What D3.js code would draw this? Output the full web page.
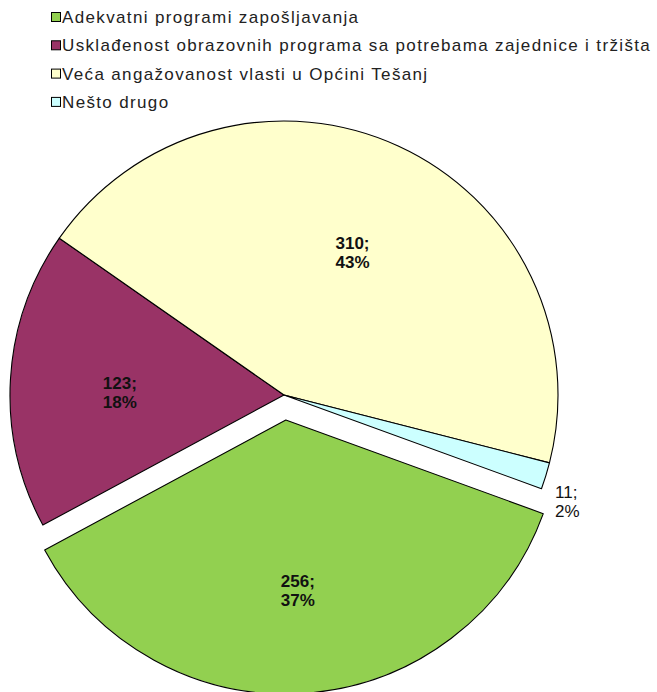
<!DOCTYPE html>
<html>
<head>
<meta charset="utf-8">
<script src="https://cdn.jsdelivr.net/npm/d3@7"></script>
<style>
  body { margin: 0; background: #fff; }
</style>
</head>
<body>
<div id="chart"></div>
<script>
var categories = [
  "Adekvatni programi zapošljavanja",
  "Usklađenost obrazovnih programa sa potrebama zajednice i tržišta",
  "Veća angažovanost vlasti u Općini Tešanj",
  "Nešto drugo"
];
var values = [256, 123, 310, 11];
var percents = ["37%", "18%", "43%", "2%"];
var colors = ["#92D050", "#993366", "#FFFFCC", "#CCFFFF"];
var exploded = [true, false, false, false];

var width = 657,
    height = 692,
    cx = 284,
    cy = 395,
    radius = 274,
    explode = 25;

var svg = d3.select("#chart")
    .append("svg")
    .attr("width", width)
    .attr("height", height);

// legend
var legend = svg.append("g")
    .attr("transform", "translate(51,0)");

var rows = legend.selectAll("g")
    .data(categories)
    .enter()
    .append("g")
    .attr("transform", function(d, i) { return "translate(0," + (12 + i * 28.3) + ")"; });

rows.append("rect")
    .attr("x", 0.5)
    .attr("y", 0.5)
    .attr("width", 9)
    .attr("height", 9)
    .style("fill", function(d, i) { return colors[i]; })
    .style("stroke", "#000")
    .style("stroke-width", 1);

rows.append("text")
    .attr("x", 11)
    .attr("y", 11)
    .style("font-family", "Liberation Sans, Arial, sans-serif")
    .style("font-size", "17px")
    .style("letter-spacing", "1.35px")
    .style("fill", "#222")
    .text(function(d) { return d; });

// pie
var pie = d3.pie()
    .sort(null)
    .startAngle(110 * Math.PI / 180)
    .endAngle(110 * Math.PI / 180 + 2 * Math.PI);

var arc = d3.arc()
    .innerRadius(0)
    .outerRadius(radius);

var labelArc = d3.arc()
    .innerRadius(radius * 0.6)
    .outerRadius(radius * 0.6);

var outerArc = d3.arc()
    .innerRadius(radius + 16)
    .outerRadius(radius + 16);

var arcs = pie(values);

var g = svg.append("g")
    .attr("transform", "translate(" + cx + "," + cy + ")");

var slices = g.selectAll("g.slice")
    .data(arcs)
    .enter()
    .append("g")
    .attr("class", "slice")
    .attr("transform", function(d, i) {
        if (!exploded[i]) return null;
        var a = (d.startAngle + d.endAngle) / 2;
        return "translate(" + (Math.sin(a) * explode) + "," + (-Math.cos(a) * explode) + ")";
    });

slices.append("path")
    .attr("d", arc)
    .style("fill", function(d, i) { return colors[i]; })
    .style("stroke", "#000")
    .style("stroke-width", 1.1)
    .style("stroke-linejoin", "round");

// labels
slices.append("text")
    .attr("transform", function(d, i) {
        var p = (i === 3) ? outerArc.centroid(d) : labelArc.centroid(d);
        return "translate(" + p[0] + "," + p[1] + ")";
    })
    .attr("text-anchor", function(d, i) { return i === 3 ? "start" : "middle"; })
    .style("font-family", "Liberation Sans, Arial, sans-serif")
    .style("font-size", "17px")
    .style("font-weight", function(d, i) { return i === 3 ? "normal" : "bold"; })
    .style("fill", "#111")
    .each(function(d, i) {
        var t = d3.select(this);
        var y0 = (i === 3) ? 17 : 3;
        t.append("tspan").attr("x", i === 3 ? -6 : 0).attr("y", y0).text(values[i] + ";");
        t.append("tspan").attr("x", i === 3 ? -6 : 0).attr("y", y0 + 19).text(percents[i]);
    });
</script>
</body>
</html>
